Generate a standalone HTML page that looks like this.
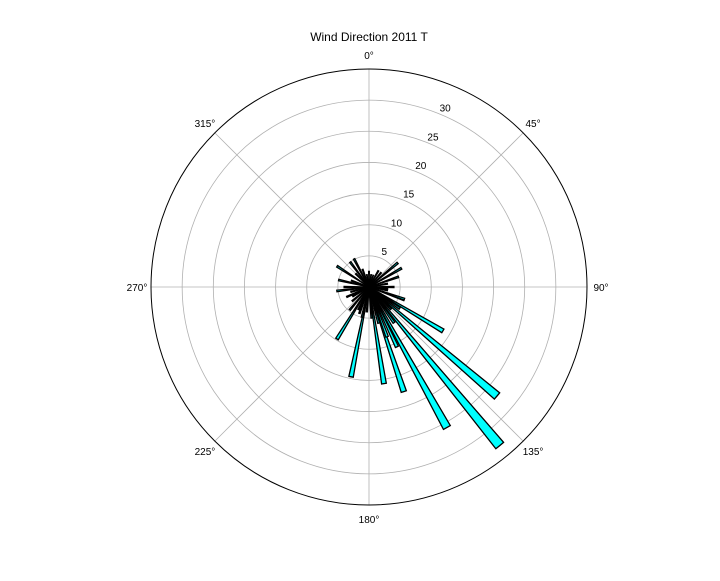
<!DOCTYPE html>
<html><head><meta charset="utf-8"><style>
body{margin:0;background:#fff;}
svg{font-family:"Liberation Sans",sans-serif;}
</style></head><body>
<svg id="chart" width="720" height="576" viewBox="0 0 720 576">
<rect width="720" height="576" fill="#fff"/>
<text x="369" y="41" font-size="12" text-anchor="middle">Wind Direction 2011 T</text>
<g id="grid"></g><g id="bars"></g><g id="labels"></g>
</svg>
<script>
const directions = [140.5,130.4,151,120.7,161.6,171.2,191.3,211.6,155,160,110,303,323,332,50,60,71,283,263,96,109,220,193,246,340,30,145,165,175,185,200,230,255,270,290,315,0,10,20,40,80,90,100,125,135,205,240,350];
const speeds =     [33,  27,  25.8,13.8,17.7,15.7,14.7,9.8, 10.6,8.5,6,  6.1,5, 5.1,6, 6, 5, 5, 5.2,3, 6,  4.8,5,  3.9,3, 3, 7,  6,  5,  4,  4.5,3.5,3,  4,  3,  3, 2.5,2,2,3,3,4,3,6,5,4,3,2];
const rTicks = [5,10,15,20,25,30];
const angleTicks = [0,45,90,135,180,225,270,315];
const cx=369, cy=287, R=218, rMax=35, barWidth=2.8;
const NS='http://www.w3.org/2000/svg';
function rs(v){return v/rMax*R;}
function pt(a,r){const t=a*Math.PI/180;return [cx+r*Math.sin(t), cy-r*Math.cos(t)];}
function mk(tag,attrs,parent){const e=document.createElementNS(NS,tag);for(const k in attrs)e.setAttribute(k,attrs[k]);parent.appendChild(e);return e;}
const grid=document.getElementById('grid'),bars=document.getElementById('bars'),labels=document.getElementById('labels');
rTicks.forEach(v=>{const c=mk('circle',{cx:cx,cy:cy,r:rs(v),fill:'none',stroke:'#b0b0b0','stroke-width':0.8},grid);

});
angleTicks.forEach(a=>{const p=pt(a,R);const l=mk('line',{x1:cx,y1:cy,x2:p[0],y2:p[1],stroke:'#b0b0b0','stroke-width':0.8},grid);


const q=pt(a,R+14);const t=mk('text',{x:q[0],y:q[1]+4,'font-size':10,'text-anchor':'middle'},labels);t.textContent=a+'°';

});
const oc=mk('circle',{cx:cx,cy:cy,r:R,fill:'none',stroke:'#000','stroke-width':1},grid);


rTicks.forEach(v=>{const q=pt(23,rs(v)+8);const t=mk('text',{x:q[0],y:q[1]+4,'font-size':10,'text-anchor':'middle'},labels);t.textContent=v;

});
directions.forEach((d,i)=>{const r=rs(speeds[i]);const a=pt(d-barWidth/2,r),b=pt(d+barWidth/2,r);
const p=mk('path',{d:`M${cx},${cy} L${a[0]},${a[1]} A${r},${r} 0 0 1 ${b[0]},${b[1]} Z`,fill:'#00ffff',stroke:'#000','stroke-width':1.3,'stroke-linejoin':'miter'},bars);

});
</script>
</body></html>
